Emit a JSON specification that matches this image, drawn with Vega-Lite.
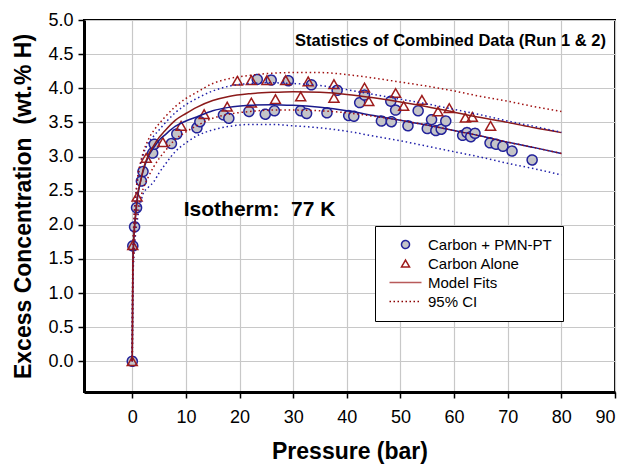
{
  "$schema": "https://vega.github.io/schema/vega-lite/v6.json",
  "width": 531,
  "height": 372,
  "autosize": {"type": "none"},
  "padding": {"left": 84, "top": 20, "right": 11, "bottom": 72},
  "background": "white",
  "config": {
    "font": "Liberation Sans",
    "view": {"stroke": "black", "strokeWidth": 2},
    "axis": {
      "gridColor": "#c8c8c8", "gridWidth": 1.2,
      "domainColor": "black", "domainWidth": 3,
      "tickColor": "black", "tickWidth": 1.5, "tickSize": 6,
      "labelFont": "Liberation Sans", "labelFontSize": 18, "labelColor": "black", "labelOverlap": false,
      "titleFont": "Liberation Sans", "titleFontSize": 23, "titleFontWeight": "bold", "titleColor": "black"
    }
  },
  "datasets": {
    "points": [
      {"series": "Carbon + PMN-PT", "p": 0, "c": 0},
      {"series": "Carbon + PMN-PT", "p": 0.1, "c": 1.69},
      {"series": "Carbon + PMN-PT", "p": 0.43, "c": 1.97},
      {"series": "Carbon + PMN-PT", "p": 0.8, "c": 2.25},
      {"series": "Carbon + PMN-PT", "p": 1.7, "c": 2.64},
      {"series": "Carbon + PMN-PT", "p": 2.0, "c": 2.78},
      {"series": "Carbon + PMN-PT", "p": 3.8, "c": 3.05},
      {"series": "Carbon + PMN-PT", "p": 4.1, "c": 3.18},
      {"series": "Carbon + PMN-PT", "p": 7.3, "c": 3.19},
      {"series": "Carbon + PMN-PT", "p": 8.3, "c": 3.33},
      {"series": "Carbon + PMN-PT", "p": 12.05, "c": 3.42},
      {"series": "Carbon + PMN-PT", "p": 12.6, "c": 3.51},
      {"series": "Carbon + PMN-PT", "p": 17.0, "c": 3.61},
      {"series": "Carbon + PMN-PT", "p": 18.0, "c": 3.56},
      {"series": "Carbon + PMN-PT", "p": 21.75, "c": 3.66},
      {"series": "Carbon + PMN-PT", "p": 23.3, "c": 4.13},
      {"series": "Carbon + PMN-PT", "p": 24.8, "c": 3.62},
      {"series": "Carbon + PMN-PT", "p": 25.9, "c": 4.12},
      {"series": "Carbon + PMN-PT", "p": 26.5, "c": 3.67},
      {"series": "Carbon + PMN-PT", "p": 29.1, "c": 4.11},
      {"series": "Carbon + PMN-PT", "p": 31.4, "c": 3.67},
      {"series": "Carbon + PMN-PT", "p": 32.5, "c": 3.63},
      {"series": "Carbon + PMN-PT", "p": 33.4, "c": 4.05},
      {"series": "Carbon + PMN-PT", "p": 36.3, "c": 3.64},
      {"series": "Carbon + PMN-PT", "p": 38.2, "c": 3.97},
      {"series": "Carbon + PMN-PT", "p": 40.35, "c": 3.60},
      {"series": "Carbon + PMN-PT", "p": 41.3, "c": 3.59},
      {"series": "Carbon + PMN-PT", "p": 42.4, "c": 3.79},
      {"series": "Carbon + PMN-PT", "p": 43.3, "c": 3.90},
      {"series": "Carbon + PMN-PT", "p": 46.45, "c": 3.52},
      {"series": "Carbon + PMN-PT", "p": 48.2, "c": 3.81},
      {"series": "Carbon + PMN-PT", "p": 48.3, "c": 3.51},
      {"series": "Carbon + PMN-PT", "p": 49.1, "c": 3.68},
      {"series": "Carbon + PMN-PT", "p": 51.4, "c": 3.45},
      {"series": "Carbon + PMN-PT", "p": 53.3, "c": 3.67},
      {"series": "Carbon + PMN-PT", "p": 55.0, "c": 3.41},
      {"series": "Carbon + PMN-PT", "p": 55.8, "c": 3.54},
      {"series": "Carbon + PMN-PT", "p": 56.6, "c": 3.38},
      {"series": "Carbon + PMN-PT", "p": 57.6, "c": 3.40},
      {"series": "Carbon + PMN-PT", "p": 58.45, "c": 3.52},
      {"series": "Carbon + PMN-PT", "p": 61.6, "c": 3.31},
      {"series": "Carbon + PMN-PT", "p": 62.4, "c": 3.35},
      {"series": "Carbon + PMN-PT", "p": 63.1, "c": 3.29},
      {"series": "Carbon + PMN-PT", "p": 63.9, "c": 3.34},
      {"series": "Carbon + PMN-PT", "p": 66.7, "c": 3.20},
      {"series": "Carbon + PMN-PT", "p": 67.8, "c": 3.18},
      {"series": "Carbon + PMN-PT", "p": 69.1, "c": 3.15},
      {"series": "Carbon + PMN-PT", "p": 70.8, "c": 3.08},
      {"series": "Carbon + PMN-PT", "p": 74.55, "c": 2.95},
      {"series": "Carbon Alone", "p": 0, "c": 0},
      {"series": "Carbon Alone", "p": 0.1, "c": 1.70},
      {"series": "Carbon Alone", "p": 0.9, "c": 2.41},
      {"series": "Carbon Alone", "p": 2.6, "c": 2.98},
      {"series": "Carbon Alone", "p": 5.7, "c": 3.21},
      {"series": "Carbon Alone", "p": 9.1, "c": 3.45},
      {"series": "Carbon Alone", "p": 13.4, "c": 3.62},
      {"series": "Carbon Alone", "p": 17.7, "c": 3.73},
      {"series": "Carbon Alone", "p": 19.6, "c": 4.11},
      {"series": "Carbon Alone", "p": 22.2, "c": 4.12},
      {"series": "Carbon Alone", "p": 22.2, "c": 3.79},
      {"series": "Carbon Alone", "p": 25.1, "c": 4.12},
      {"series": "Carbon Alone", "p": 26.7, "c": 3.84},
      {"series": "Carbon Alone", "p": 28.6, "c": 4.12},
      {"series": "Carbon Alone", "p": 31.4, "c": 3.88},
      {"series": "Carbon Alone", "p": 32.8, "c": 4.10},
      {"series": "Carbon Alone", "p": 37.6, "c": 4.06},
      {"series": "Carbon Alone", "p": 37.6, "c": 3.86},
      {"series": "Carbon Alone", "p": 43.3, "c": 4.01},
      {"series": "Carbon Alone", "p": 44.1, "c": 3.81},
      {"series": "Carbon Alone", "p": 49.1, "c": 3.93},
      {"series": "Carbon Alone", "p": 50.6, "c": 3.74},
      {"series": "Carbon Alone", "p": 54.0, "c": 3.83},
      {"series": "Carbon Alone", "p": 57.0, "c": 3.66},
      {"series": "Carbon Alone", "p": 59.1, "c": 3.71},
      {"series": "Carbon Alone", "p": 62.1, "c": 3.57},
      {"series": "Carbon Alone", "p": 63.4, "c": 3.58},
      {"series": "Carbon Alone", "p": 66.8, "c": 3.45}
    ],
    "curves": [
      {"p": 0, "bf": 0, "bu": 0, "bl": 0, "rf": 0, "ru": 0, "rl": 0},
      {"p": 0.1, "bf": 1.35, "bu": 1.5, "bl": 1.1, "rf": 1.35, "ru": 1.5, "rl": 1.15},
      {"p": 0.3, "bf": 1.8, "bu": 2.0, "bl": 1.55, "rf": 1.85, "ru": 2.05, "rl": 1.6},
      {"p": 0.6, "bf": 2.1, "bu": 2.35, "bl": 1.85, "rf": 2.15, "ru": 2.4, "rl": 1.95},
      {"p": 1, "bf": 2.4, "bu": 2.65, "bl": 2.1, "rf": 2.45, "ru": 2.7, "rl": 2.2},
      {"p": 1.5, "bf": 2.62, "bu": 2.88, "bl": 2.3, "rf": 2.62, "ru": 2.9, "rl": 2.38},
      {"p": 2, "bf": 2.78, "bu": 3.02, "bl": 2.45, "rf": 2.8, "ru": 3.05, "rl": 2.52},
      {"p": 3, "bf": 3.0, "bu": 3.2, "bl": 2.55, "rf": 3.02, "ru": 3.25, "rl": 2.7},
      {"p": 4, "bf": 3.13, "bu": 3.3, "bl": 2.63, "rf": 3.16, "ru": 3.38, "rl": 2.85},
      {"p": 5, "bf": 3.24, "bu": 3.39, "bl": 2.76, "rf": 3.28, "ru": 3.48, "rl": 2.97},
      {"p": 6, "bf": 3.31, "bu": 3.48, "bl": 2.87, "rf": 3.37, "ru": 3.57, "rl": 3.07},
      {"p": 8, "bf": 3.44, "bu": 3.64, "bl": 3.07, "rf": 3.53, "ru": 3.73, "rl": 3.25},
      {"p": 10, "bf": 3.52, "bu": 3.76, "bl": 3.2, "rf": 3.63, "ru": 3.85, "rl": 3.36},
      {"p": 12, "bf": 3.58, "bu": 3.85, "bl": 3.3, "rf": 3.72, "ru": 3.94, "rl": 3.45},
      {"p": 15, "bf": 3.67, "bu": 3.96, "bl": 3.39, "rf": 3.82, "ru": 4.07, "rl": 3.56},
      {"p": 18, "bf": 3.72, "bu": 4.03, "bl": 3.44, "rf": 3.88, "ru": 4.14, "rl": 3.62},
      {"p": 22, "bf": 3.75, "bu": 4.07, "bl": 3.47, "rf": 3.92, "ru": 4.19, "rl": 3.66},
      {"p": 26, "bf": 3.76, "bu": 4.08, "bl": 3.47, "rf": 3.94, "ru": 4.22, "rl": 3.68},
      {"p": 30, "bf": 3.75, "bu": 4.07, "bl": 3.45, "rf": 3.95, "ru": 4.23, "rl": 3.68},
      {"p": 35, "bf": 3.72, "bu": 4.04, "bl": 3.42, "rf": 3.94, "ru": 4.23, "rl": 3.67},
      {"p": 40, "bf": 3.67, "bu": 3.98, "bl": 3.37, "rf": 3.91, "ru": 4.20, "rl": 3.64},
      {"p": 45, "bf": 3.60, "bu": 3.91, "bl": 3.30, "rf": 3.86, "ru": 4.15, "rl": 3.59},
      {"p": 50, "bf": 3.53, "bu": 3.84, "bl": 3.23, "rf": 3.80, "ru": 4.09, "rl": 3.53},
      {"p": 55, "bf": 3.46, "bu": 3.77, "bl": 3.15, "rf": 3.73, "ru": 4.03, "rl": 3.46},
      {"p": 60, "bf": 3.38, "bu": 3.69, "bl": 3.07, "rf": 3.65, "ru": 3.96, "rl": 3.38},
      {"p": 65, "bf": 3.30, "bu": 3.61, "bl": 2.99, "rf": 3.57, "ru": 3.88, "rl": 3.30},
      {"p": 70, "bf": 3.21, "bu": 3.52, "bl": 2.90, "rf": 3.50, "ru": 3.81, "rl": 3.21},
      {"p": 75, "bf": 3.13, "bu": 3.44, "bl": 2.82, "rf": 3.42, "ru": 3.73, "rl": 3.13},
      {"p": 80, "bf": 3.045, "bu": 3.355, "bl": 2.73, "rf": 3.35, "ru": 3.66, "rl": 3.045}
    ],
    "notes": [
      {"p": 88.3, "c": 4.69, "label": "Statistics of Combined Data (Run 1 & 2)", "kind": "title"},
      {"p": 9.6, "c": 2.21, "label": "Isotherm:\u00a0 77 K", "kind": "iso"}
    ]
  },
  "encoding": {
    "x": {
      "field": "p", "type": "quantitative",
      "scale": {"domain": [-9, 90], "nice": false, "zero": false},
      "axis": {"values": [0, 10, 20, 30, 40, 50, 60, 70, 80, 90], "title": "Pressure (bar)", "labelPadding": 10, "titlePadding": 14, "grid": true}
    }
  },
  "layer": [
    {
      "data": {"name": "points"},
      "mark": {"type": "point", "filled": true, "size": 100, "strokeWidth": 1.5, "opacity": 1},
      "encoding": {
        "y": {
          "field": "c", "type": "quantitative",
          "scale": {"domain": [-0.45, 5], "nice": false, "zero": false},
          "axis": {"values": [0, 0.5, 1, 1.5, 2, 2.5, 3, 3.5, 4, 4.5, 5], "format": ".1f", "title": "Excess Concentration\u00a0 (wt.% H)", "labelPadding": 5, "titlePadding": 12, "grid": true}
        },
        "shape": {
          "field": "series", "type": "nominal",
          "scale": {"domain": ["Carbon + PMN-PT", "Carbon Alone", "Model Fits", "95% CI"], "range": ["circle", "triangle-up", "M-4,0H4", "M-4,0H4"]},
          "legend": {
            "title": null, "orient": "none", "legendX": 291, "legendY": 206,
            "padding": 11, "strokeColor": "black", "fillColor": "white",
            "labelFont": "Liberation Sans", "labelFontSize": 15, "labelColor": "black",
            "symbolSize": 64, "symbolStrokeWidth": 1.5, "rowPadding": 3,
            "labelOffset": 15, "symbolOffset": 12
          }
        },
        "stroke": {
          "field": "series", "type": "nominal",
          "scale": {"domain": ["Carbon + PMN-PT", "Carbon Alone", "Model Fits", "95% CI"], "range": ["#22229a", "#9e1c1c", "#b85a5a", "#8b0000"]}
        },
        "fill": {
          "field": "series", "type": "nominal",
          "scale": {"domain": ["Carbon + PMN-PT", "Carbon Alone", "Model Fits", "95% CI"], "range": ["#c4c4c8", "transparent", "transparent", "transparent"]}
        },
        "strokeDash": {
          "field": "series", "type": "nominal",
          "scale": {"domain": ["Carbon + PMN-PT", "Carbon Alone", "Model Fits", "95% CI"], "range": [[1, 0], [1, 0], [1, 0], [1.5, 2.5]]}
        }
      }
    },
    {
      "data": {"name": "curves"},
      "mark": {"type": "line", "color": "#1a1a8c", "strokeWidth": 1.5, "interpolate": "monotone"},
      "encoding": {"y": {"field": "bf", "type": "quantitative", "scale": {"domain": [-0.45, 5], "nice": false, "zero": false},
        "axis": {"values": [0, 0.5, 1, 1.5, 2, 2.5, 3, 3.5, 4, 4.5, 5], "format": ".1f", "title": "Excess Concentration\u00a0 (wt.% H)", "labelPadding": 5, "titlePadding": 12, "grid": true}}}
    },
    {
      "data": {"name": "curves"},
      "mark": {"type": "line", "color": "#8b1a1a", "strokeWidth": 1.5, "interpolate": "monotone"},
      "encoding": {"y": {"field": "rf", "type": "quantitative", "scale": {"domain": [-0.45, 5], "nice": false, "zero": false},
        "axis": {"values": [0, 0.5, 1, 1.5, 2, 2.5, 3, 3.5, 4, 4.5, 5], "format": ".1f", "title": "Excess Concentration\u00a0 (wt.% H)", "labelPadding": 5, "titlePadding": 12, "grid": true}}}
    },
    {
      "data": {"name": "curves"},
      "mark": {"type": "line", "color": "#1f1faa", "strokeWidth": 1.5, "strokeDash": [1.5, 2.8], "interpolate": "monotone"},
      "encoding": {"y": {"field": "bu", "type": "quantitative", "scale": {"domain": [-0.45, 5], "nice": false, "zero": false},
        "axis": {"values": [0, 0.5, 1, 1.5, 2, 2.5, 3, 3.5, 4, 4.5, 5], "format": ".1f", "title": "Excess Concentration\u00a0 (wt.% H)", "labelPadding": 5, "titlePadding": 12, "grid": true}}}
    },
    {
      "data": {"name": "curves"},
      "mark": {"type": "line", "color": "#1f1faa", "strokeWidth": 1.5, "strokeDash": [1.5, 2.8], "interpolate": "monotone"},
      "encoding": {"y": {"field": "bl", "type": "quantitative", "scale": {"domain": [-0.45, 5], "nice": false, "zero": false},
        "axis": {"values": [0, 0.5, 1, 1.5, 2, 2.5, 3, 3.5, 4, 4.5, 5], "format": ".1f", "title": "Excess Concentration\u00a0 (wt.% H)", "labelPadding": 5, "titlePadding": 12, "grid": true}}}
    },
    {
      "data": {"name": "curves"},
      "mark": {"type": "line", "color": "#a01010", "strokeWidth": 1.5, "strokeDash": [1.5, 2.8], "interpolate": "monotone"},
      "encoding": {"y": {"field": "ru", "type": "quantitative", "scale": {"domain": [-0.45, 5], "nice": false, "zero": false},
        "axis": {"values": [0, 0.5, 1, 1.5, 2, 2.5, 3, 3.5, 4, 4.5, 5], "format": ".1f", "title": "Excess Concentration\u00a0 (wt.% H)", "labelPadding": 5, "titlePadding": 12, "grid": true}}}
    },
    {
      "data": {"name": "curves"},
      "mark": {"type": "line", "color": "#a01010", "strokeWidth": 1.5, "strokeDash": [1.5, 2.8], "interpolate": "monotone"},
      "encoding": {"y": {"field": "rl", "type": "quantitative", "scale": {"domain": [-0.45, 5], "nice": false, "zero": false},
        "axis": {"values": [0, 0.5, 1, 1.5, 2, 2.5, 3, 3.5, 4, 4.5, 5], "format": ".1f", "title": "Excess Concentration\u00a0 (wt.% H)", "labelPadding": 5, "titlePadding": 12, "grid": true}}}
    },
    {
      "data": {"name": "notes"},
      "transform": [{"filter": "datum.kind === 'title'"}],
      "mark": {"type": "text", "align": "right", "baseline": "middle", "fontSize": 16.5, "fontWeight": "bold", "font": "Liberation Sans", "color": "black"},
      "encoding": {
        "y": {"field": "c", "type": "quantitative", "scale": {"domain": [-0.45, 5], "nice": false, "zero": false},
          "axis": {"values": [0, 0.5, 1, 1.5, 2, 2.5, 3, 3.5, 4, 4.5, 5], "format": ".1f", "title": "Excess Concentration\u00a0 (wt.% H)", "labelPadding": 5, "titlePadding": 12, "grid": true}},
        "text": {"field": "label"}
      }
    },
    {
      "data": {"name": "notes"},
      "transform": [{"filter": "datum.kind === 'iso'"}],
      "mark": {"type": "text", "align": "left", "baseline": "middle", "fontSize": 21, "fontWeight": "bold", "font": "Liberation Sans", "color": "black"},
      "encoding": {
        "y": {"field": "c", "type": "quantitative", "scale": {"domain": [-0.45, 5], "nice": false, "zero": false},
          "axis": {"values": [0, 0.5, 1, 1.5, 2, 2.5, 3, 3.5, 4, 4.5, 5], "format": ".1f", "title": "Excess Concentration\u00a0 (wt.% H)", "labelPadding": 5, "titlePadding": 12, "grid": true}},
        "text": {"field": "label"}
      }
    }
  ]
}
